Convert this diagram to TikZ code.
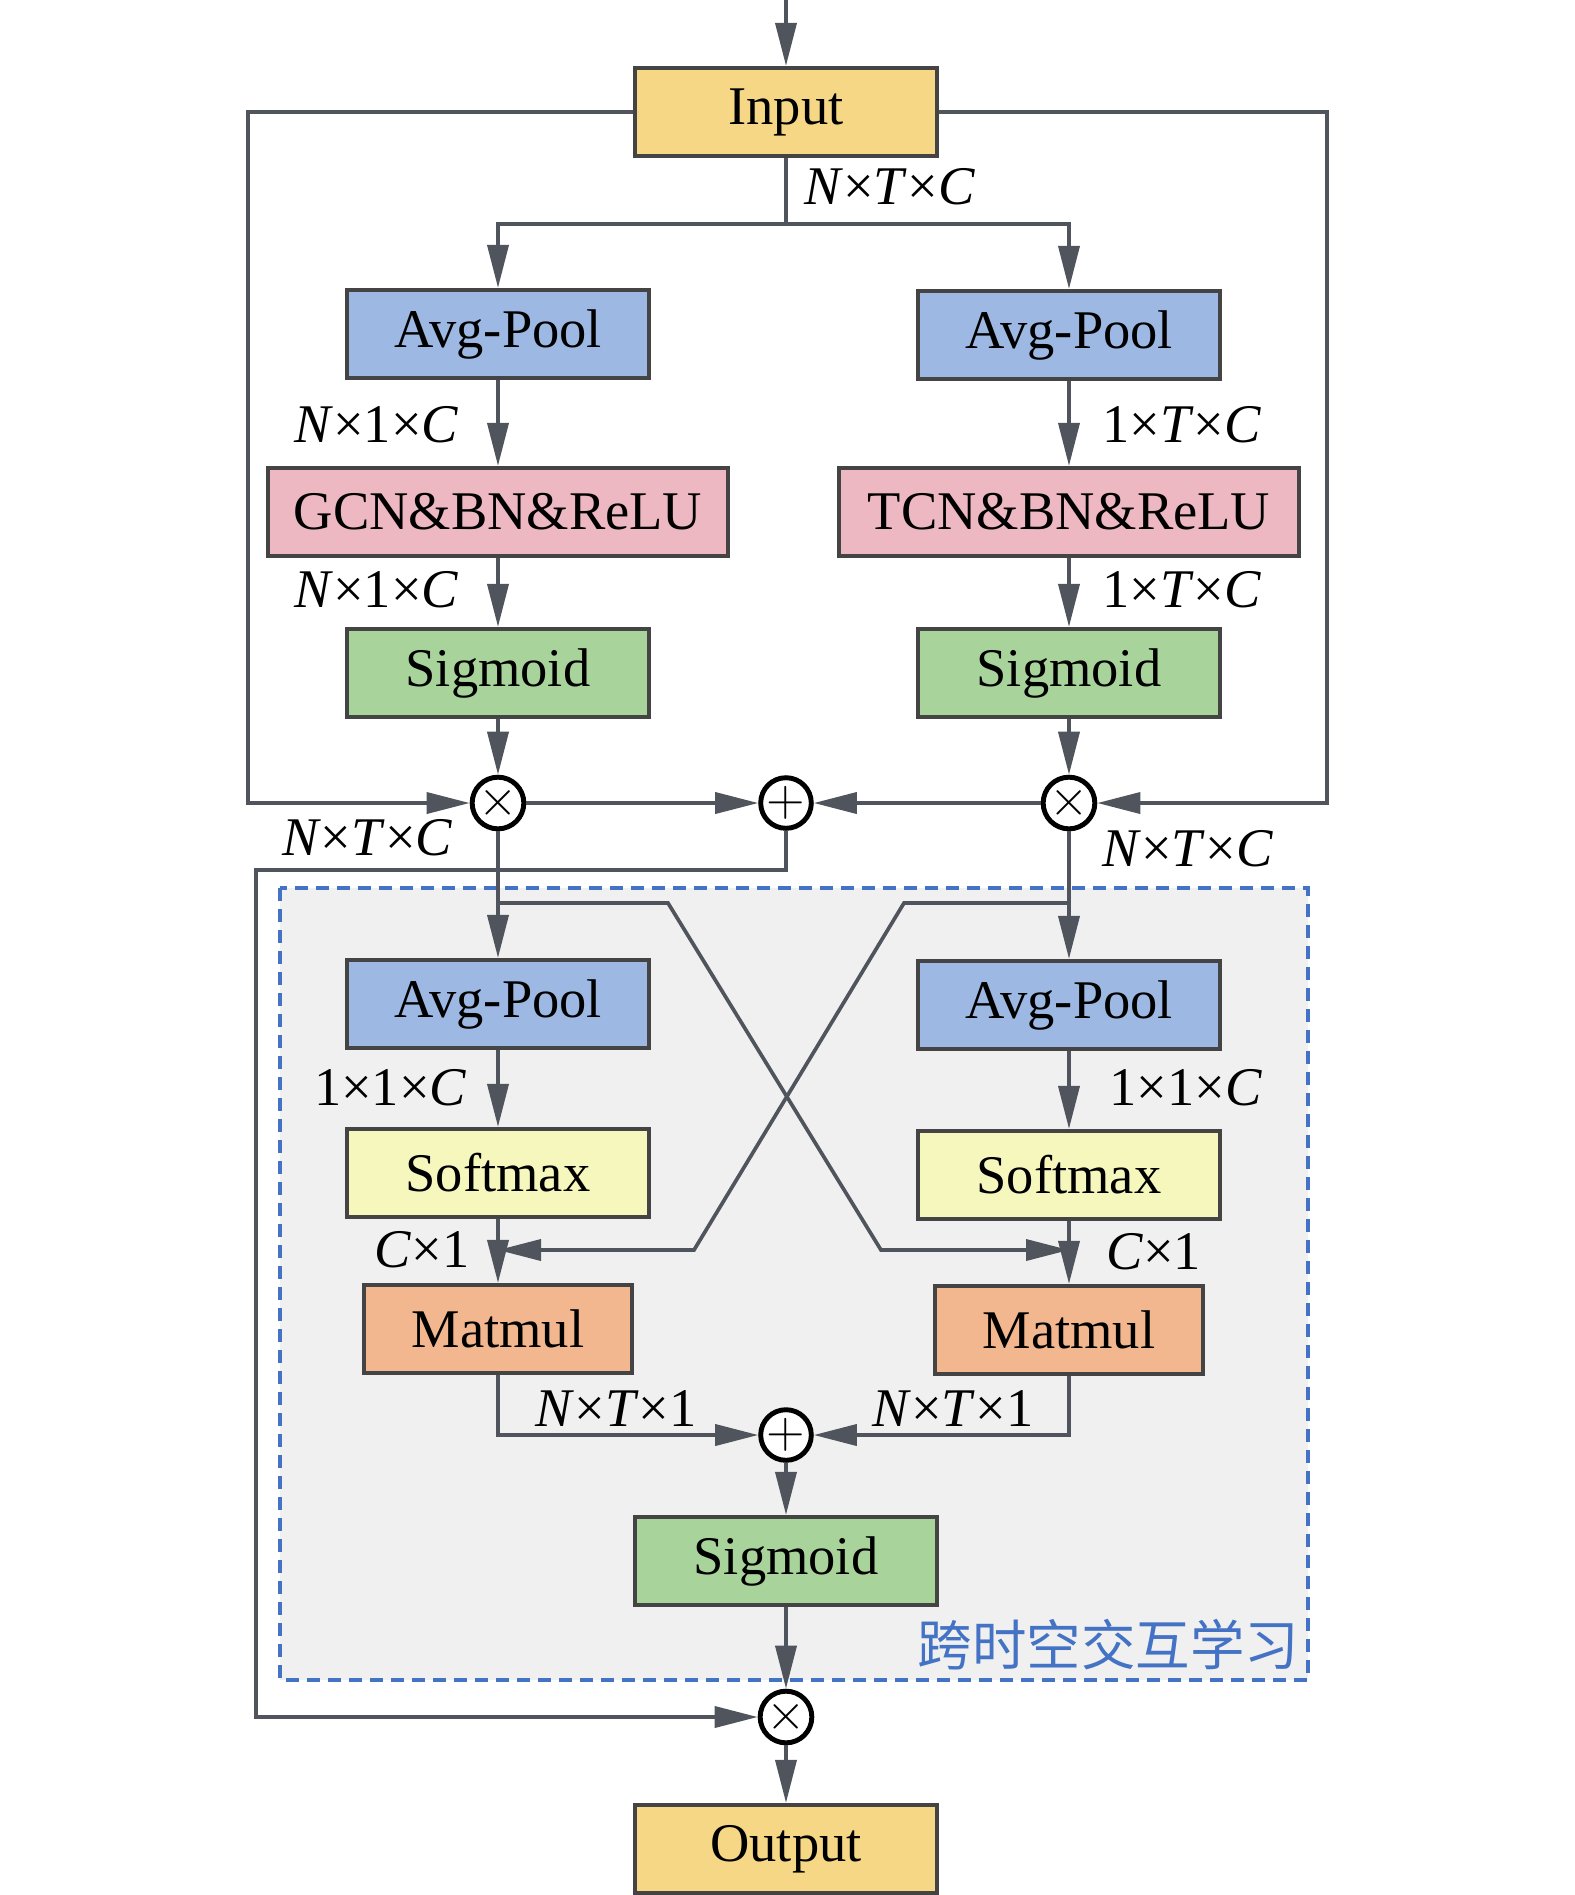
\documentclass[tikz,border=0pt]{standalone}
\usepackage{fontspec}
\setmainfont{Liberation Serif}
\newfontfamily\cjk{Noto Sans CJK SC}
\usepackage{tikz}
\usetikzlibrary{arrows.meta}
\definecolor{LineGray}{HTML}{50545C}
\definecolor{EdgeGray}{HTML}{444444}
\definecolor{IoYellow}{HTML}{F5D785}
\definecolor{PoolBlue}{HTML}{9CB8E3}
\definecolor{ConvPink}{HTML}{EEB8C2}
\definecolor{SigGreen}{HTML}{A8D49B}
\definecolor{SoftYellow}{HTML}{F6F7BC}
\definecolor{MatOrange}{HTML}{F2B78E}
\definecolor{PanelGray}{HTML}{F0F0F0}
\definecolor{PanelBlue}{HTML}{4472C4}
\newcommand{\iv}[1]{\textit{#1}}
\newcommand{\ioblk}[3]{\node[draw=EdgeGray,line width=1.2pt,fill=IoYellow,
  minimum width=3.02cm,minimum height=0.88cm,inner sep=0pt] (#1) at (#2) {#3};}
\newcommand{\poolblk}[3]{\node[draw=EdgeGray,line width=1.2pt,fill=PoolBlue,
  minimum width=3.02cm,minimum height=0.88cm,inner sep=0pt] (#1) at (#2) {#3};}
\newcommand{\convblk}[3]{\node[draw=EdgeGray,line width=1.2pt,fill=ConvPink,
  minimum width=4.6cm,minimum height=0.88cm,inner sep=0pt] (#1) at (#2) {#3};}
\newcommand{\sigblk}[3]{\node[draw=EdgeGray,line width=1.2pt,fill=SigGreen,
  minimum width=3.02cm,minimum height=0.88cm,inner sep=0pt] (#1) at (#2) {#3};}
\newcommand{\softblk}[3]{\node[draw=EdgeGray,line width=1.2pt,fill=SoftYellow,
  minimum width=3.02cm,minimum height=0.88cm,inner sep=0pt] (#1) at (#2) {#3};}
\newcommand{\matblk}[3]{\node[draw=EdgeGray,line width=1.2pt,fill=MatOrange,
  minimum width=2.68cm,minimum height=0.88cm,inner sep=0pt] (#1) at (#2) {#3};}

\begin{document}
\begin{tikzpicture}[
  font=\fontsize{15.5}{18}\selectfont, >={Triangle[length=0.43cm,width=0.21cm]},
  arr/.style={->, draw=LineGray, line width=1.05pt},
  ln/.style={draw=LineGray, line width=1.05pt},
  op/.style={circle, draw=black, line width=1.4pt, fill=white,
    minimum size=0.5cm, inner sep=0pt, font=\fontsize{14}{14}\selectfont},
  dim/.style={inner sep=1pt},
]
\useasboundingbox (0,0) rectangle (15.75,-18.95);

%% -- interaction panel ------------------------------------------------
\draw[PanelBlue, fill=PanelGray, line width=0.9pt, dash pattern=on 0.13cm off 0.08cm]
  (2.80,-8.88) rectangle (13.08,-16.80);
\node[text=PanelBlue, anchor=east, inner sep=0pt, font=\cjk\fontsize{15.5}{18}\selectfont]
  (panel) at (13.00,-16.45) {跨时空交互学习};

%% -- blocks -----------------------------------------------------------
\ioblk{inp}{7.86,-1.12}{Input}
\poolblk{poolS}{4.98,-3.34}{Avg-Pool}
\poolblk{poolT}{10.69,-3.35}{Avg-Pool}
\convblk{gcn}{4.98,-5.12}{GCN\&BN\&ReLU}
\convblk{tcn}{10.69,-5.12}{TCN\&BN\&ReLU}
\sigblk{sigS}{4.98,-6.73}{Sigmoid}
\sigblk{sigT}{10.69,-6.73}{Sigmoid}
\node[op] (mulS) at (4.98,-8.03) {$\times$};
\node[op] (addA) at (7.86,-8.03) {$+$};
\node[op] (mulT) at (10.69,-8.03) {$\times$};
\poolblk{poolA}{4.98,-10.04}{Avg-Pool}
\poolblk{poolB}{10.69,-10.05}{Avg-Pool}
\softblk{softA}{4.98,-11.73}{Softmax}
\softblk{softB}{10.69,-11.75}{Softmax}
\matblk{matA}{4.98,-13.29}{Matmul}
\matblk{matB}{10.69,-13.30}{Matmul}
\node[op] (addB) at (7.86,-14.35) {$+$};
\sigblk{sigC}{7.86,-15.61}{Sigmoid}
\node[op] (mulC) at (7.86,-17.17) {$\times$};
\ioblk{out}{7.86,-18.49}{Output}

%% -- input and bypasses -----------------------------------------------
\coordinate (top) at (7.86,0);
\coordinate (fork) at (7.86,-2.24);
\coordinate (byS) at (2.48,-1.12);
\coordinate (byT) at (13.27,-1.12);
\draw[arr] (top) -- (inp);
\draw[ln] (inp) -- (fork);
\draw[arr] (fork) -| (poolS);
\draw[arr] (fork) -| (poolT);
\draw[arr] (inp.west) -- (byS) |- (mulS);
\draw[arr] (inp.east) -- (byT) |- (mulT);

%% -- spatial / temporal branches ----------------------------------------
\draw[arr] (poolS) -- (gcn);
\draw[arr] (gcn) -- (sigS);
\draw[arr] (sigS) -- (mulS);
\draw[arr] (poolT) -- (tcn);
\draw[arr] (tcn) -- (sigT);
\draw[arr] (sigT) -- (mulT);
\draw[arr] (mulS) -- (addA);
\draw[arr] (mulT) -- (addA);

%% -- residual to the output -------------------------------------------
\coordinate (ret) at (2.56,-8.70);
\draw[arr] (addA) |- (ret) |- (mulC);

%% -- cross interaction ------------------------------------------------
\draw[arr] (mulS) -- (poolA);
\draw[arr] (mulT) -- (poolB);
\coordinate (xS0) at (4.98,-9.03);
\coordinate (xS1) at (6.68,-9.03);
\coordinate (xS2) at (8.81,-12.50);
\coordinate (xS3) at (10.69,-12.50);
\coordinate (xT0) at (10.69,-9.03);
\coordinate (xT1) at (9.04,-9.03);
\coordinate (xT2) at (6.94,-12.50);
\coordinate (xT3) at (4.98,-12.50);
\draw[arr] (xS0) -- (xS1) -- (xS2) -- (xS3);
\draw[arr] (xT0) -- (xT1) -- (xT2) -- (xT3);
\draw[arr] (poolA) -- (softA);
\draw[arr] (softA) -- (matA);
\draw[arr] (poolB) -- (softB);
\draw[arr] (softB) -- (matB);
\draw[arr] (matA) |- (addB);
\draw[arr] (matB) |- (addB);
\draw[arr] (addB) -- (sigC);
\draw[arr] (sigC) -- (mulC);
\draw[arr] (mulC) -- (out);

%% -- sizes ------------------------------------------------------------
\node[dim, anchor=west] (dIn) at (8.00,-1.87) {\iv{N}×\iv{T}×\iv{C}};
\node[dim, anchor=east] (dS1) at (4.63,-4.25) {\iv{N}×1×\iv{C}};
\node[dim, anchor=east] (dS2) at (4.63,-5.90) {\iv{N}×1×\iv{C}};
\node[dim, anchor=west] (dT1) at (10.98,-4.25) {1×\iv{T}×\iv{C}};
\node[dim, anchor=west] (dT2) at (10.98,-5.90) {1×\iv{T}×\iv{C}};
\node[dim, anchor=east] (dS3) at (4.57,-8.38) {\iv{N}×\iv{T}×\iv{C}};
\node[dim, anchor=west] (dT3) at (10.98,-8.49) {\iv{N}×\iv{T}×\iv{C}};
\node[dim, anchor=east] (dA1) at (4.71,-10.88) {1×1×\iv{C}};
\node[dim, anchor=west] (dB1) at (11.05,-10.88) {1×1×\iv{C}};
\node[dim, anchor=east] (dA2) at (4.74,-12.50) {\iv{C}×1};
\node[dim, anchor=west] (dB2) at (11.02,-12.52) {\iv{C}×1};
\node[dim, anchor=east] (dA3) at (7.01,-14.08) {\iv{N}×\iv{T}×1};
\node[dim, anchor=west] (dB3) at (8.68,-14.08) {\iv{N}×\iv{T}×1};

\end{tikzpicture}
\end{document}
